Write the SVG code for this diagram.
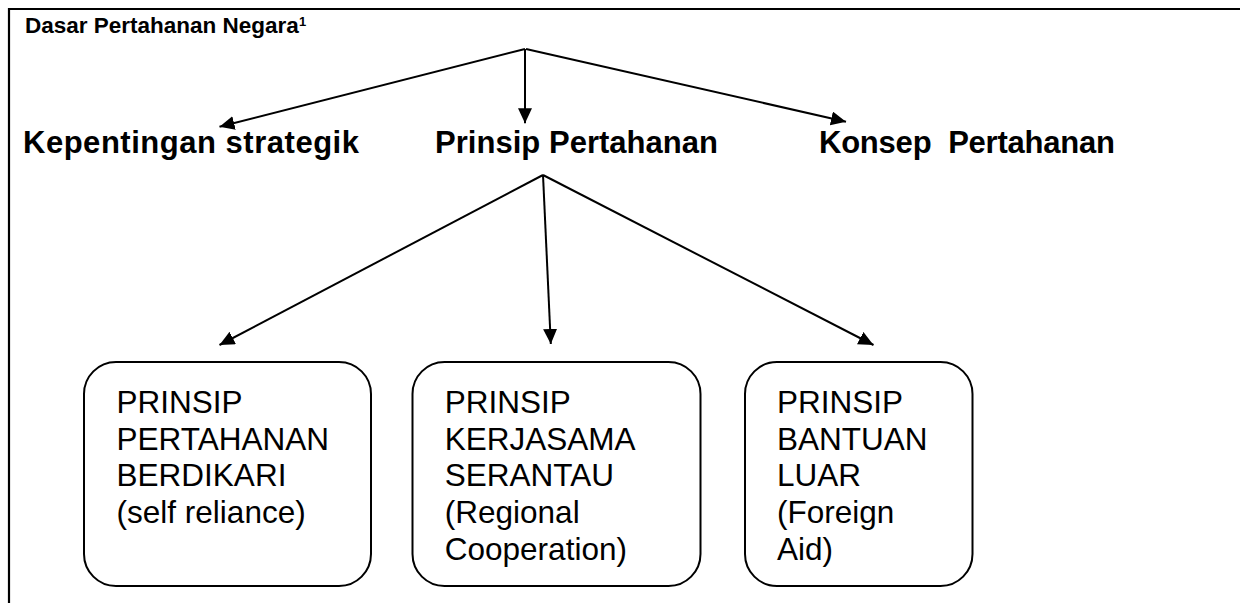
<svg xmlns="http://www.w3.org/2000/svg" width="1241" height="603" viewBox="0 0 1241 603">
  <style>
    .frame { stroke: #000; stroke-width: 2.2; fill: none; }
    .conn { stroke: #000; stroke-width: 2; fill: none; marker-end: url(#arrow); }
    .box { fill: #fff; stroke: #000; stroke-width: 2; }
    .title { font-family: "Liberation Sans", Arial, sans-serif; font-weight: bold; font-size: 22.5px; fill: #000; }
    .lvl2 { font-family: "Liberation Sans", Arial, sans-serif; font-weight: bold; font-size: 31px; fill: #000; }
    .btxt { font-family: "Liberation Sans", Arial, sans-serif; font-size: 31.5px; fill: #000; }
  </style>
  <defs>
    <marker id="arrow" markerUnits="userSpaceOnUse" markerWidth="16" markerHeight="15" refX="15" refY="7" orient="auto">
      <path d="M0,0 L15,7 L0,14 z" fill="#000"/>
    </marker>
  </defs>

  <g id="frame">
    <line class="frame" x1="8" y1="9" x2="1240" y2="9"/>
    <line class="frame" x1="9" y1="8" x2="9" y2="603"/>
  </g>

  <g id="connectors">
    <line class="conn" x1="525" y1="49" x2="219.5" y2="126.7"/>
    <line class="conn" x1="525" y1="49" x2="525" y2="123.3"/>
    <line class="conn" x1="526" y1="49" x2="846" y2="121.7"/>
    <line class="conn" x1="543" y1="175" x2="219.5" y2="345"/>
    <line class="conn" x1="543" y1="175" x2="550.8" y2="344"/>
    <line class="conn" x1="543" y1="175" x2="873.5" y2="345"/>
  </g>

  <g id="node-title">
    <text class="title" x="25" y="33">Dasar Pertahanan Negara<tspan font-size="13" dy="-7">1</tspan></text>
  </g>

  <g id="node-kepentingan">
    <text class="lvl2" x="23" y="153" textLength="336">Kepentingan strategik</text>
  </g>
  <g id="node-prinsip">
    <text class="lvl2" x="435" y="153" textLength="283">Prinsip Pertahanan</text>
  </g>
  <g id="node-konsep">
    <text class="lvl2" x="819" y="153" textLength="296" xml:space="preserve">Konsep  Pertahanan</text>
  </g>

  <g id="node-berdikari">
    <rect class="box" x="84" y="362" width="287" height="224" rx="32" ry="32"/>
    <text class="btxt">
      <tspan x="116.6" y="413">PRINSIP</tspan>
      <tspan x="116.6" y="449.7">PERTAHANAN</tspan>
      <tspan x="116.6" y="486.4">BERDIKARI</tspan>
      <tspan x="116.6" y="523.1">(self reliance)</tspan>
    </text>
  </g>

  <g id="node-serantau">
    <rect class="box" x="412.5" y="362" width="288" height="224" rx="32" ry="32"/>
    <text class="btxt">
      <tspan x="444.8" y="413">PRINSIP</tspan>
      <tspan x="444.8" y="449.7">KERJASAMA</tspan>
      <tspan x="444.8" y="486.4">SERANTAU</tspan>
      <tspan x="444.8" y="523.1">(Regional</tspan>
      <tspan x="444.8" y="559.8">Cooperation)</tspan>
    </text>
  </g>

  <g id="node-bantuan">
    <rect class="box" x="745" y="362" width="227.5" height="224" rx="32" ry="32"/>
    <text class="btxt">
      <tspan x="777" y="413">PRINSIP</tspan>
      <tspan x="777" y="449.7">BANTUAN</tspan>
      <tspan x="777" y="486.4">LUAR</tspan>
      <tspan x="777" y="523.1">(Foreign</tspan>
      <tspan x="777" y="559.8">Aid)</tspan>
    </text>
  </g>
</svg>
